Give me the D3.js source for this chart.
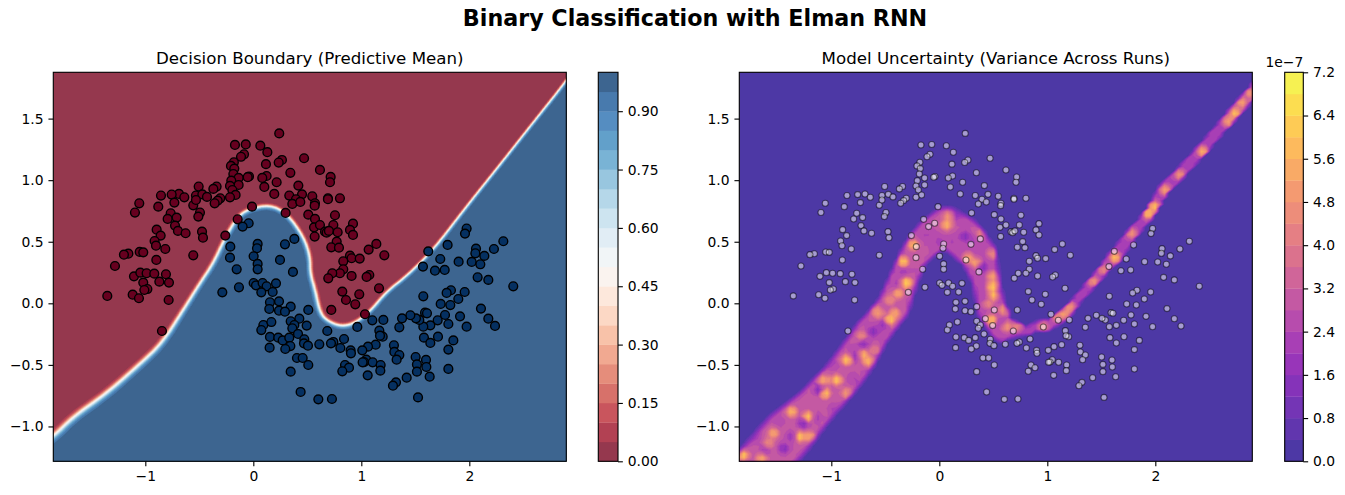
<!DOCTYPE html>
<html><head><meta charset="utf-8">
<script src="https://cdn.jsdelivr.net/npm/d3@7"></script>
<style>
html,body{margin:0;padding:0;background:#fff}
svg{display:block}
text{font-family:"DejaVu Sans",sans-serif;fill:#000}
</style></head><body><div id="chart"></div>
<script>
// ---------- data ----------
const xDomain=[-1.852,2.898];
const yDomain=[-1.283,1.876];
const xTicks=[-1,0,1,2];
const yTicks=[-1,-0.5,0,0.5,1,1.5];
const meanLevels=d3.range(0,21).map(i=>i*0.05);
const meanTicks=[0,0.15,0.30,0.45,0.60,0.75,0.90];
const varLevels=d3.range(0,19).map(i=>i*0.4);   // x 1e-7
const varTicks=[0,0.8,1.6,2.4,3.2,4.0,4.8,5.6,6.4,7.2];
const titleMain="Binary Classification with Elman RNN";
const titleLeft="Decision Boundary (Predictive Mean)";
const titleRight="Model Uncertainty (Variance Across Runs)";
const rdbuStops=["#67001f","#b2182b","#d6604d","#f4a582","#fddbc7","#f7f7f7","#d1e5f0","#92c5de","#4393c3","#2166ac","#053061"];

const class0=[[.24,1.38],[-.17,1.286],[-.07,1.29],[.065,1.28],[.13,1.227],[.47,1.178],[.265,1.164],[.235,1.143],[-.086,1.21],[-.114,1.19],[.117,1.13],[-.18,1.145],[-.207,1.116],[-.176,1.094],[.343,1.06],[-.185,1.05],[-.04,1.03],[-.052,1.024],[-.136,1.018],[.123,1.034],[.083,1.018],[-.204,.996],[.216,.983],[-.136,.961],[-.216,.953],[-.506,.948],[.102,.945],[.417,.956],[-.34,.948],[-.37,.929],[-.194,.92],[-.688,.888],[-.756,.883],[-.855,.875],[-.639,.861],[-.531,.875],[-.472,.885],[-.429,.864],[-.164,.88],[-.216,.861],[-.306,.853],[-.33,.834],[-.358,.812],[.194,.888],[.333,.875],[.546,.869],[.451,.885],[.395,.845],[.361,.807],[.435,.823],[.571,.812],[.568,.793],[.617,1.083],[-.012,.785],[-1.056,.812],[-.88,.785],[-.731,.818],[-.556,.796],[-.531,.839],[-.494,.737],[-.509,.704],[-.765,.731],[-1.096,.737],[-.793,.685],[-.71,.696],[.299,.734],[.509,.72],[.571,.685],[-.145,.682],[-.725,.631],[-.895,.598],[-.858,.55],[-.698,.588],[-.627,.569],[-.475,.582],[-.466,.533],[-.259,.55],[.562,.617],[.568,.542],[-.914,.506],[-.901,.468],[-.815,.441],[-1.157,.403],[-1.198,.395],[-1.052,.417],[-1.019,.414],[-.556,.39],[-.898,.352],
[.716,1.026],[.71,.983],[.691,.853],[.691,.845],[.802,.853],[.756,.715],[.617,.636],[.741,.636],[.923,.647],[.895,.596],[.923,.555],[.664,.582],[.679,.574],[.70,.588],[.781,.577],[.772,.501],[.722,.455],[.793,.452],[1.139,.482],[1.068,.436],[1.213,.39],[.895,.387],[.91,.366],[.985,.363],[.833,.341],[.833,.276],[.802,.244],[.731,.244],[1.074,.23],[1.049,.214],[.91,.222],[.694,.203],
[-1.281,.303],[-1.105,.219],[-1.046,.249],[-.988,.244],[-.917,.241],[-.809,.236],[-1.019,.168],[-.87,.176],[-.781,.168],[-.981,.116],[-1.009,.108],[-1.117,.07],[-1.059,.041],[-1.352,.06],[-.784,.027],[-.846,-.225],
[1.164,.122],[.824,.095],[.981,.073],[.858,.027],[.944,-.008],[.722,-.054],[1.034,-.089]];

const class1=[[-.043,.65],[-.099,.623],[.38,.523],[.293,.479],[.04,.482],[.034,.447],[-.213,.46],[-.216,.371],[.003,.382],[.247,.352],
[1.975,.607],[1.96,.566],[1.799,.474],[1.62,.422],[2.062,.444],[2.056,.406],[2.139,.385],[2.228,.441],[2.315,.504],[1.731,.36],[1.901,.338],[2.022,.336],[2.102,.317],[1.571,.298],[1.682,.265],[1.772,.271],[2.077,.211],[2.176,.19],
[-.154,.276],[.04,.32],[.04,.276],[.367,.255],[-.287,.089],[-.133,.13],[.003,.165],[.025,.146],[.086,.165],[.123,.138],[.074,.089],[.179,.092],[.21,.162],[.154,.008],[.238,.016],[.346,-.027],[.148,-.046],[.238,-.06],[.293,-.068],[.509,-.054],[.426,-.125],[.346,-.146],[.38,-.176],[.494,-.181],[.361,-.203],[.093,-.176],[.167,-.152],[.074,-.217],[.414,-.249],[.154,-.273],[.231,-.279],[.272,-.301],[.333,-.279],[.472,-.292],[.469,-.325],[.506,-.344],[.343,-.347],[.296,-.371],[.151,-.36],[.611,-.333],[.404,-.444],[.457,-.444],[.509,-.501],[.346,-.555],[.438,-.72],[.602,-.78],
[2.407,.138],[1.83,.106],[1.79,.084],[1.957,.092],[1.574,.057],[1.898,.035],[1.735,-.005],[1.824,-.014],[2.108,-.043],[2.176,-.125],[2.238,-.184],[1.975,-.19],[1.914,-.106],[1.775,-.095],[1.806,-.168],[1.707,-.138],[1.639,-.179],[1.574,-.19],[1.59,-.076],[1.608,-.081],[1.537,-.135],[1.506,-.122],[1.454,-.097],[1.377,-.122],[1.352,-.195],[1.204,-.135],[1.102,-.138],[.963,-.192],[.685,-.225],[1.167,-.222],[1.198,-.271],[1.173,-.263],[.84,-.29],[.741,-.314],[.719,-.325],[.806,-.363],[1.133,-.336],[1.062,-.352],[1.009,-.382],[.901,-.382],[.904,-.406],[1.302,-.341],[1.306,-.395],[1.352,-.42],[1.327,-.458],[1.046,-.458],[1.025,-.477],[1.012,-.479],[1.105,-.479],[1.179,-.501],[1.176,-.547],[.849,-.501],[.886,-.523],[.824,-.552],[1.059,-.585],[1.503,-.436],[1.599,-.46],[1.515,-.496],[1.602,-.517],[1.515,-.555],[1.806,-.533],[1.633,-.596],[1.42,-.604],[1.321,-.642],[1.293,-.669],[1.525,-.764],[1.58,-.279],[1.639,-.322],[1.71,-.271],[1.852,-.301],[1.806,-.376],[.728,-.777]];

// decision boundary (p = 0.5): x, y, transition softness in pixels
const boundary=[[-2.1,-1.23,1.8],[-1.852,-1.083,1.8],[-1.667,-.921,1.8],[-1.358,-.731,1.7],[-1.049,-.493,1.6],[-.846,-.325,1.5],[-.648,-.054,1.3],[-.494,.162,1.2],[-.37,.325,1.2],[-.262,.528,1.2],[-.154,.69,1.2],[-.062,.758,1.1],[.148,.80,1.1],[.309,.731,1.1],[.463,.542,1.1],[.525,.379,1.1],[.525,.244,1.1],[.571,.108,1.2],[.617,-.081,1.2],[.694,-.149,1.1],[.819,-.19,1.1],[.941,-.162,1.1],[1.08,-.068,1.0],[1.235,.095,.95],[1.42,.22,.9],[1.667,.433,.85],[1.975,.785,.8],[2.284,1.124,.75],[2.593,1.468,.75],[2.895,1.80,.75],[3.1,2.06,.75]];

// uncertainty ridge: centre x, centre y, half width (data units), typical level (1e-7)
const ridge=[[-2.1,-1.68,.25,2.9],[-1.65,-1.31,.25,2.9],[-1.4,-1.06,.25,2.9],[-1.151,-.84,.2,2.9],[-.91,-.61,.19,2.9],[-.78,-.46,.19,2.8],[-.62,-.236,.17,2.8],[-.534,-.149,.16,2.8],[-.426,-.027,.16,2.8],[-.333,.19,.14,2.8],[-.241,.379,.135,2.8],[-.148,.482,.16,2.8],[-.04,.569,.175,2.8],[.068,.615,.2,2.8],[.207,.542,.2,2.8],[.361,.393,.18,2.6],[.432,.19,.135,2.6],[.485,-.054,.14,2.6],[.593,-.203,.135,2.6],[.685,-.208,.08,2.4],[.824,-.23,.045,2.1],[.90,-.184,.045,2.1],[1.025,-.176,.05,2.3],[1.179,-.081,.05,2.4],[1.302,.054,.045,2.1],[1.426,.176,.05,2.3],[1.519,.271,.05,2.3],[1.627,.379,.07,2.3],[1.765,.542,.055,2.3],[1.951,.731,.05,2.3],[2.074,.921,.055,2.3],[2.259,1.083,.055,2.3],[2.444,1.259,.055,2.3],[2.63,1.449,.055,2.3],[2.753,1.571,.06,2.5],[2.892,1.706,.058,2.5],[3.1,1.95,.058,2.5]];

// bright and dark spots along the ridge: x, y, level (1e-7)
const spots=[[-1.815,-1.232,7],[-1.645,-1.26,6],[-1.537,-1.056,6],[-1.367,-.88,6.5],[-1.29,-1.083,7],[-1.213,-.921,7],[-1.198,-1.083,6],[-1.583,-1.137,5],[-1.074,-.623,6],[-1.059,-.731,7],[-.951,-.623,7],[-.858,-.73,5.5],[-.858,-.46,7],[-.704,-.42,6.5],[-.657,-.474,6.5],[-.596,-.38,4.5],[-.72,-.27,5],[-.565,-.081,5.5],[-.457,-.135,7],[-.41,-.081,6],[-.457,.027,5],[-.38,.08,6],[-.302,.168,7],
[-1.111,-.704,.8],[-1.438,-1.178,1],[-1.259,-.975,1],[-1.367,-1.083,1.5],[-.611,-.23,1],[-.704,-.325,1.2],[-.772,-.428,1.5],[-.519,-.176,1.5],[-1.614,-1.191,2],[-1.7,-1.1,2.2],[-1.48,-.96,2.4],[-1.14,-.93,2],[-.98,-.86,2.2],[-.8,-.62,2.2],[-.64,-.56,2.2],[-.98,-.5,2.2],
[-.596,-.054,5],[-.318,.162,6.5],[-.333,.338,7],[-.241,.474,6.5],[.068,.636,6.5],[.083,.704,5.5],[.269,.366,6],[.494,.135,7.2],[.494,.217,6],[.5,.068,7],[.346,.325,6],[.485,-.135,7],[.593,-.054,5.5],[.454,0,5],[.392,.582,5.5],[.5,.406,5.5],[1.086,-.108,5],[1.148,-.068,5.5],[.716,-.19,5],[.623,-.19,5.5],[.963,-.19,5],
[.16,.718,1.5],[.238,.542,1],[.392,.298,.8],[-.333,.257,2],[-.38,.162,2],[.0,.5,2],[.12,.5,2.2],[-.12,.55,2.2],[.3,.5,2.2],[.42,.05,2.4],[.56,.1,2.4],[.56,-.16,2.2],
[1.148,-.081,6],[1.21,-.027,5.5],[1.426,.176,5.5],[1.519,.271,5],[1.627,.371,7],[1.781,.569,5.5],[1.935,.726,7],[1.991,.785,7],[2.091,.921,6],[2.228,1.043,5.5],[2.438,1.232,6.5],[2.676,1.476,6],[2.738,1.543,7],[2.8,1.63,6],[2.88,1.706,5.5]];

// ---------- layout ----------
const W=1345,H=495,axTop=72.3,axBot=461.3;
const panels=[{l:53.3,r:566.3,cl:598.3,cr:618},{l:739.3,r:1252.3,cl:1284.7,cr:1303.3}];
const svg=d3.select("#chart").append("svg").attr("width",W).attr("height",H).attr("viewBox",`0 0 ${W} ${H}`);
const defs=svg.append("defs");
const over=(c)=>{const k=d3.rgb(c);return d3.rgb(51+.8*k.r,51+.8*k.g,51+.8*k.b).formatHex();};
const rdbu=d3.piecewise(d3.interpolateRgb,rdbuStops);
const meanColor=i=>over(rdbu((meanLevels[i]+meanLevels[i+1])/2));
const varColor=i=>over(d3.interpolatePlasma((varLevels[i]+varLevels[i+1])/2/7.2));

function nearest(px,py,line){
  let best=Infinity,u=0,s=0;
  for(let i=0;i<line.length-1;i++){
    const a=line[i],b=line[i+1],dx=b[0]-a[0],dy=b[1]-a[1];
    let t=((px-a[0])*dx+(py-a[1])*dy)/(dx*dx+dy*dy);t=Math.max(0,Math.min(1,t));
    const ex=a[0]+t*dx-px,ey=a[1]+t*dy-py,d=ex*ex+ey*ey;
    if(d<best){best=d;s=i;u=t;}
  }
  return {d:Math.sqrt(best),i:s,t:u};
}
// corner cutting so the read polyline becomes a smooth curve
function soften(line,n){
  let out=line;
  for(let k=0;k<n;k++){
    const next=[out[0]];
    for(let i=0;i<out.length-1;i++){
      const a=out[i],b=out[i+1];
      next.push(a.map((v,j)=>.75*v+.25*b[j]),a.map((v,j)=>.25*v+.75*b[j]));
    }
    next.push(out[out.length-1]);out=next;
  }
  return out;
}

function drawPanel(p,idx,nx,ny,field,levels,color,title){
  const X=d3.scaleLinear().domain(xDomain).range([p.l,p.r]);
  const Y=d3.scaleLinear().domain(yDomain).range([axBot,axTop]);
  const g=svg.append("g");
  const vals=new Float64Array(nx*ny);
  const dxs=(xDomain[1]-xDomain[0])/(nx-1),dys=(yDomain[1]-yDomain[0])/(ny-1);
  for(let j=0;j<ny;j++)for(let i=0;i<nx;i++){
    vals[i+j*nx]=field(xDomain[0]+i*dxs,yDomain[0]+j*dys,X,Y);
  }
  const contours=d3.contours().size([nx,ny]).thresholds(levels.slice(0,-1))(Array.from(vals));
  const path=d3.geoPath(d3.geoTransform({point(cx,cy){
    this.stream.point(X(xDomain[0]+(cx-.5)*dxs),Y(yDomain[0]+(cy-.5)*dys));}}));
  const cid="clip"+idx;
  defs.append("clipPath").attr("id",cid).append("rect").attr("x",p.l).attr("y",axTop).attr("width",p.r-p.l).attr("height",axBot-axTop);
  const body=g.append("g").attr("clip-path",`url(#${cid})`);
  body.append("g").selectAll("path").data(contours).join("path")
    .attr("d",path).attr("fill",(d,i)=>color(i)).attr("stroke",(d,i)=>color(i)).attr("stroke-width",.3);
  const ax=g.append("g").attr("transform",`translate(0,${axBot})`).call(d3.axisBottom(X).tickValues(xTicks).tickSize(4.86).tickPadding(4.86).tickFormat(d3.format("d")));
  const ay=g.append("g").attr("transform",`translate(${p.l},0)`).call(d3.axisLeft(Y).tickValues(yTicks).tickSize(4.86).tickPadding(4.86).tickFormat(d3.format(".1f")));
  [ax,ay].forEach(a=>{a.select(".domain").remove();a.selectAll("line").attr("stroke","#000").attr("stroke-width",1.11);
    a.selectAll("text").attr("font-size",13.89).attr("font-family",'"DejaVu Sans"').attr("fill","#000");});
  g.append("text").attr("x",(p.l+p.r)/2).attr("y",64).attr("text-anchor","middle").attr("font-size",16.67).text(title);
  return {X,Y,body,g};
}

function colorbar(p,levels,color,ticks,fmt){
  const S=d3.scaleLinear().domain([levels[0],levels[levels.length-1]]).range([axBot,axTop]);
  const g=svg.append("g");
  g.append("g").selectAll("rect").data(d3.range(levels.length-1)).join("rect")
    .attr("x",p.cl).attr("width",p.cr-p.cl).attr("y",i=>S(levels[i+1])).attr("height",i=>S(levels[i])-S(levels[i+1])+.3).attr("fill",i=>color(i));
  const a=g.append("g").attr("transform",`translate(${p.cr},0)`).call(d3.axisRight(S).tickValues(ticks).tickSize(4.86).tickPadding(4.86).tickFormat(d3.format(fmt)));
  a.select(".domain").remove();a.selectAll("line").attr("stroke","#000").attr("stroke-width",1.11);
  a.selectAll("text").attr("font-size",13.89).attr("font-family",'"DejaVu Sans"').attr("fill","#000");
  g.append("rect").attr("x",p.cl).attr("y",axTop).attr("width",p.cr-p.cl).attr("height",axBot-axTop).attr("fill","none").attr("stroke","#000").attr("stroke-width",1.11);
}
function frame(p){svg.append("rect").attr("x",p.l).attr("y",axTop).attr("width",p.r-p.l).attr("height",axBot-axTop).attr("fill","none").attr("stroke","#000").attr("stroke-width",1.11);}

// ---------- left panel ----------
const XL=d3.scaleLinear().domain(xDomain).range([panels[0].l,panels[0].r]);
const YL=d3.scaleLinear().domain(yDomain).range([axBot,axTop]);
const bPix=soften(boundary.map(b=>[XL(b[0]),YL(b[1]),b[2]]),2);
const bluePoly=bPix.map(b=>[b[0],b[1]]).concat([[XL(3.5),YL(2.06)],[XL(3.5),YL(-2)],[XL(-2.1),YL(-2)]]);
function meanField(x,y,X,Y){
  const px=X(x),py=Y(y),n=nearest(px,py,bPix);
  const w=bPix[n.i][2]*(1-n.t)+bPix[n.i+1][2]*n.t;
  const inside=d3.polygonContains(bluePoly,[px,py]);
  return inside?1/(1+Math.exp(-n.d/(w*1.2))):1/(1+Math.exp(n.d/w));
}
const L=drawPanel(panels[0],0,210,190,meanField,meanLevels,meanColor,titleLeft);
const pts=class0.map(d=>({x:d[0],y:d[1],c:rdbu(0)})).concat(class1.map(d=>({x:d[0],y:d[1],c:rdbu(1)})));
L.body.append("g").selectAll("circle").data(pts).join("circle")
  .attr("cx",d=>L.X(d.x)).attr("cy",d=>L.Y(d.y)).attr("r",4.4).attr("fill",d=>d.c).attr("stroke","#000").attr("stroke-width",1.39);
frame(panels[0]);
colorbar(panels[0],meanLevels,meanColor,meanTicks,".2f");

// ---------- right panel ----------
const XR=d3.scaleLinear().domain(xDomain).range([panels[1].l,panels[1].r]);
const rPix=ridge.map(b=>[XR(b[0]),YL(b[1]),b[2]*115,b[3]]);
const sPix=spots.map(s=>[XR(s[0]),YL(s[1]),s[2]]);
function varField(x,y,X,Y){
  const px=X(x),py=Y(y),n=nearest(px,py,rPix);
  const a=rPix[n.i],b=rPix[n.i+1];
  const hw=a[2]*(1-n.t)+b[2]*n.t,base=a[3]*(1-n.t)+b[3]*n.t;
  if(n.d>=hw)return 0;
  const edge=Math.min(1,(1-n.d/hw)/.28);
  let num=base*.8,den=.8;
  for(const s of sPix){
    const dx=s[0]-px,dy=s[1]-py,w=3*Math.exp(-(dx*dx+dy*dy)/14);
    num+=w*s[2];den+=w;
  }
  return Math.min(7.19,edge*num/den);
}
const R=drawPanel(panels[1],1,112,104,varField,varLevels,varColor,titleRight);
R.body.append("g").selectAll("circle").data(pts).join("circle")
  .attr("cx",d=>R.X(d.x)).attr("cy",d=>R.Y(d.y)).attr("r",3.0)
  .attr("fill","#fff").attr("fill-opacity",.5).attr("stroke","#000").attr("stroke-opacity",.5).attr("stroke-width",1.1);
frame(panels[1]);
colorbar(panels[1],varLevels,varColor,varTicks,".1f");
svg.append("text").attr("x",panels[1].cr).attr("y",67).attr("text-anchor","end").attr("font-size",13.89).text("1e\u22127");

svg.append("text").attr("x",695).attr("y",26).attr("text-anchor","middle").attr("font-size",22.22).attr("font-weight","bold").text(titleMain);
</script></body></html>
